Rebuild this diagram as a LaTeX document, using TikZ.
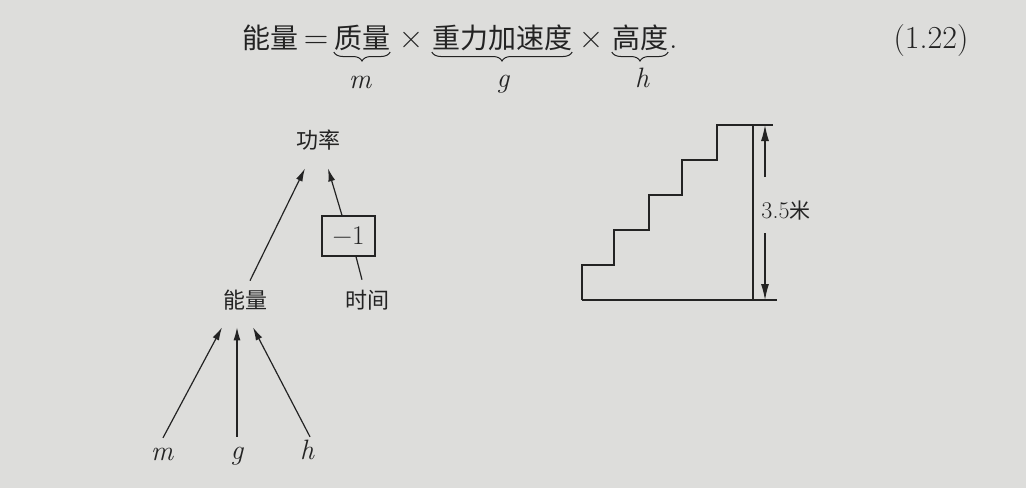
\documentclass[tikz,border=0pt]{standalone}
\usepackage{fontspec}
\newfontfamily\cjk{Noto Sans CJK SC}
\usetikzlibrary{arrows.meta,decorations.pathreplacing}
\definecolor{bg}{RGB}{221,221,219}
\definecolor{ink}{RGB}{35,35,35}
\begin{document}
\begin{tikzpicture}[x=1pt,y=-1pt,
  every node/.style={inner sep=0pt, text=ink},
  eqz/.style={font=\cjk\fontsize{28}{30}\selectfont, anchor=base},
  eqm/.style={font=\fontsize{34}{36}\selectfont, anchor=base},
  var/.style={font=\itshape\fontsize{28}{30}\selectfont, anchor=base, text height=13pt, text depth=5pt},
  dz/.style={font=\cjk\fontsize{22}{24}\selectfont},
  arr/.style={draw=ink, line width=1.2pt, -{Latex[length=13pt,width=7pt]}},
  darr/.style={draw=ink, line width=1.1pt, -{Latex[length=16pt,width=8pt]}},
  brace/.style={draw=ink, line width=1pt, decorate, decoration={brace, mirror, amplitude=9pt}},
  ln/.style={draw=ink, line width=1.5pt}]
\fill[bg] (0,0) rectangle (1026,488);
\useasboundingbox (0,0) rectangle (1026,488);

% equation
\node[eqz] (e1) at (270,48) {能量};
\node[eqm] (e2) at (316,48) {=};
\node[eqz] (e3) at (362,48) {质量};
\node[eqm] (e4) at (411,48) {×};
\node[eqz] (e5) at (502,48) {重力加速度};
\node[eqm] (e6) at (591,48) {×};
\node[eqz] (e7) at (640,48) {高度};
\node[eqm, anchor=base west] (e8) at (669,48) {.};
\node[eqm, font=\fontsize{32}{34}\selectfont] (eqn) at (931,48) {(1.22)};
\draw[brace] ([yshift=-4pt]e3.base west) -- ([yshift=-4pt]e3.base east);
\draw[brace] ([yshift=-4pt]e5.base west) -- ([yshift=-4pt]e5.base east);
\draw[brace] ([yshift=-4pt]e7.base west) -- ([yshift=-4pt]e7.base east);
\node[var] (lm) at (360,88) {m};
\node[var] (lg) at (503,87) {g};
\node[var] (lh) at (642,87) {h};

% diagram
\node[dz] (gl) at (318,140) {功率};
\node[dz] (nl) at (245,300) {能量};
\node[dz] (sj) at (367,300) {时间};
\node[draw=ink, line width=1.2pt, minimum width=53pt, minimum height=40pt, font=\fontsize{27}{29}\selectfont] (bx) at (348.5,236) {−1};
\node[var] (vm) at (162,460) {m};
\node[var] (vg) at (237,459) {g};
\node[var] (vh) at (307,459) {h};

\draw[arr] ([xshift=5pt,yshift=9pt]nl.north) -- ([xshift=-13pt,yshift=-18pt]gl.south);
\draw[ln, line width=1.2pt] ([xshift=-5pt,yshift=10pt]sj.north) -- ([xshift=7.5pt]bx.south);
\draw[arr] ([xshift=-6.5pt]bx.north) -- ([xshift=10pt,yshift=-18pt]gl.south);
\draw[arr] ([xshift=1pt,yshift=9pt]vm.north) -- ([xshift=-23pt,yshift=-17pt]nl.south);
\draw[arr] ([yshift=9pt]vg.north) -- ([xshift=-8pt,yshift=-17pt]nl.south);
\draw[arr] ([xshift=3pt,yshift=9pt]vh.north) -- ([xshift=8pt,yshift=-17pt]nl.south);

% stairs
\draw[ln] (582,300) -- (582,265) -- (614,265) -- (614,230) -- (649,230) -- (649,195) -- (682,195) -- (682,160) -- (717,160) -- (717,125) -- (773,125);
\draw[ln] (582,300) -- (777,300);
\draw[ln] (753,125) -- (753,300);
\node[font=\fontsize{24}{26}\selectfont] (dl) at (786,211) {3.5{\cjk\fontsize{21}{23}\selectfont 米}};
\coordinate (dt) at (765,125);
\coordinate (dt1) at (765,177);
\coordinate (db1) at (765,233);
\coordinate (db) at (765,300);
\draw[darr] (dt1) -- (dt);
\draw[darr] (db1) -- (db);
\end{tikzpicture}
\end{document}
